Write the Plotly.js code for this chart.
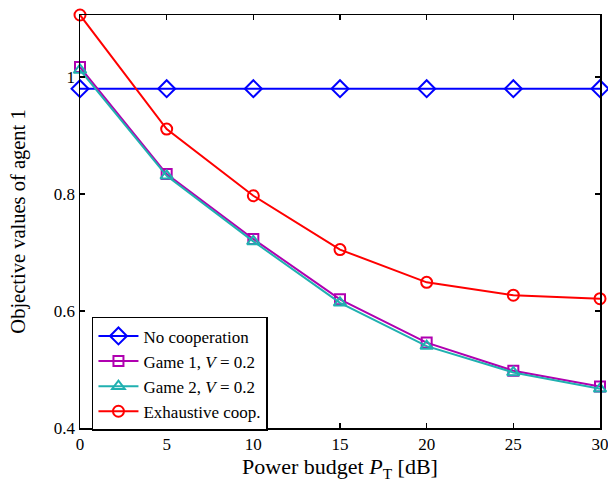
<!DOCTYPE html>
<html><head><meta charset="utf-8">
<script src="https://cdn.plot.ly/plotly-3.0.1.min.js"></script>
<style>body{margin:0;background:#fff}#c{width:608px;height:482px}</style>
</head><body><div id="c"></div>
<script>
const powerDB = [0, 5, 10, 15, 20, 25, 30];
const noCoop = [0.980, 0.980, 0.980, 0.980, 0.980, 0.980, 0.980];
const game1 = [1.017, 0.834, 0.723, 0.620, 0.546, 0.498, 0.471];
const game2 = [1.012, 0.831, 0.719, 0.614, 0.540, 0.495, 0.467];
const exhaustive = [1.106, 0.911, 0.797, 0.705, 0.649, 0.627, 0.621];
const xTicks = [0, 5, 10, 15, 20, 25, 30];
const yTicks = [0.4, 0.6, 0.8, 1];
const names = ['No cooperation', 'Game 1, <i>V</i> = 0.2', 'Game 2, <i>V</i> = 0.2', 'Exhaustive coop.'];

const font = 'Liberation Serif, Times New Roman, serif';
function tr(y, name, color, symbol, size) {
  return {x: powerDB, y: y, name: name, type: 'scatter', mode: 'lines+markers',
    line: {color: color, width: 2},
    marker: {symbol: symbol, size: size, color: color, line: {color: color, width: 2}},
    cliponaxis: false};
}
const data = [
  tr(noCoop, names[0], '#0000ff', 'diamond-open', 13),
  tr(game1, names[1], '#b000b0', 'square-open', 10),
  tr(game2, names[2], '#20b0b0', 'triangle-up-open', 11),
  tr(exhaustive, names[3], '#ff0000', 'circle-open', 11)
];
const axisCommon = {showline: true, mirror: 'ticks', linecolor: '#000', linewidth: 1.5,
  ticks: 'inside', ticklen: 5, tickcolor: '#000', tickwidth: 1.5, showgrid: false, zeroline: false,
  ticklabeloverflow: 'allow', tickfont: {family: font, size: 17, color: '#000'}};
const layout = {
  width: 608, height: 482,
  margin: {l: 80, r: 8, t: 15, b: 54},
  paper_bgcolor: '#fff', plot_bgcolor: '#fff',
  font: {family: font, color: '#000'},
  showlegend: true,
  legend: {x: 0.023, y: 0.269, xanchor: 'left', yanchor: 'top',
    bordercolor: '#000', borderwidth: 1.5, bgcolor: '#fff',
    font: {family: font, size: 17, color: '#000'}, tracegroupgap: 0, itemwidth: 40},
  xaxis: Object.assign({}, axisCommon, {range: [0, 30], tickvals: xTicks, ticktext: xTicks.map(String),
    title: {text: 'Power budget <i>P</i><sub>T</sub> [dB]', font: {family: font, size: 22}, standoff: 6}}),
  yaxis: Object.assign({}, axisCommon, {range: [0.4, 1.106], tickvals: yTicks, ticktext: yTicks.map(String),
    title: {text: 'Objective values of agent 1', font: {family: font, size: 20.5}, standoff: 22}})
};
Plotly.newPlot('c', data, layout, {displayModeBar: false, staticPlot: true});
</script></body></html>
